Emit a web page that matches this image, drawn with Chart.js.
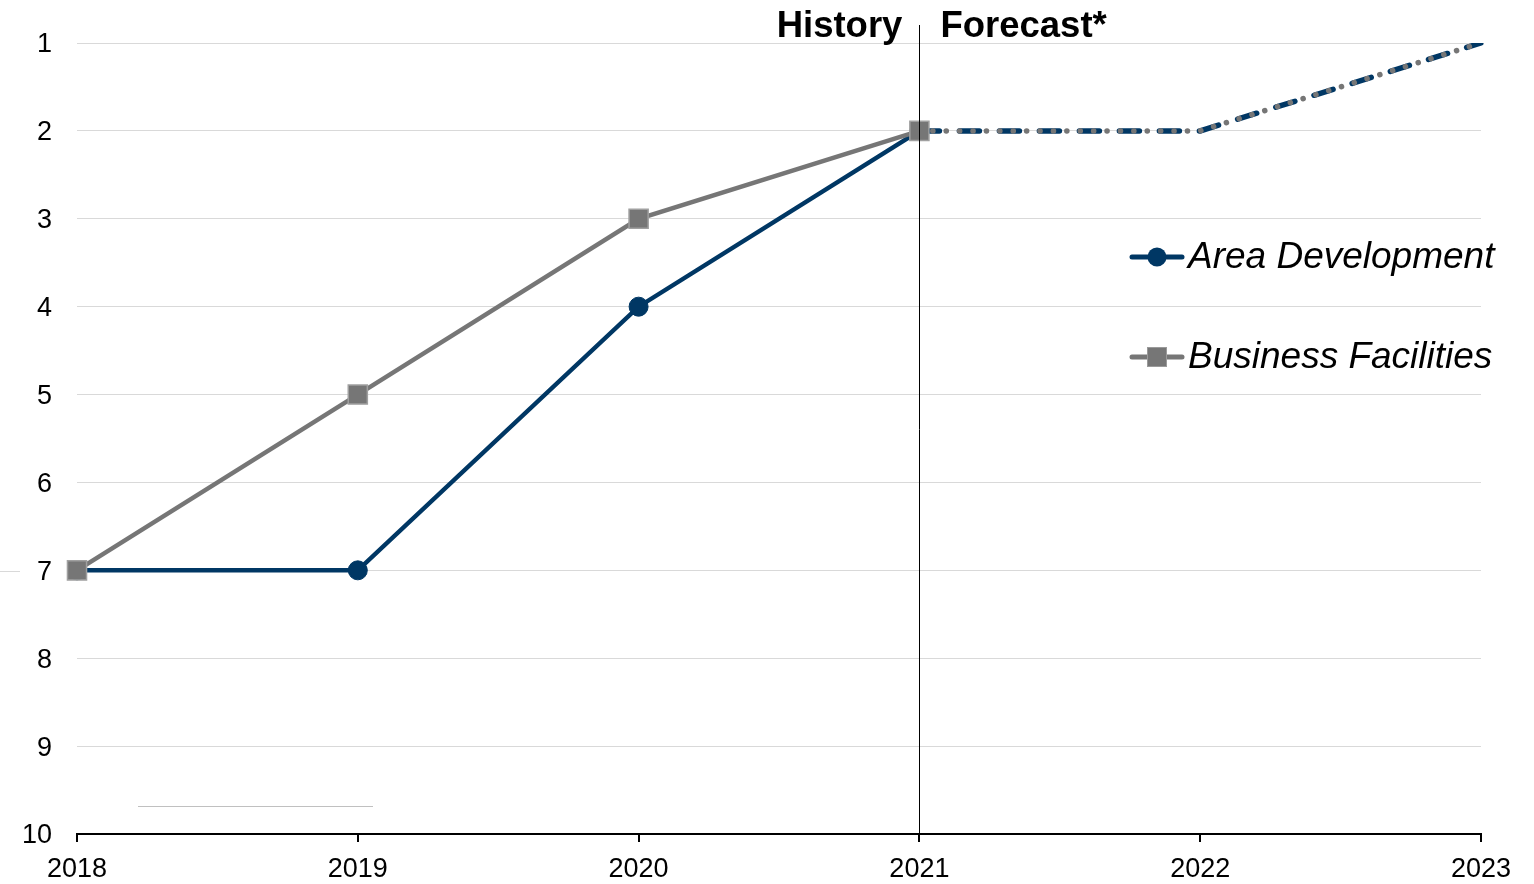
<!DOCTYPE html>
<html>
<head>
<meta charset="utf-8">
<script src="https://cdn.jsdelivr.net/npm/chart.js@4"></script>
<style>
html,body{margin:0;padding:0;background:#fff;}
#wrap{position:relative;width:1534px;height:884px;}
</style>
</head>
<body>
<div id="wrap"><canvas id="c" width="1534" height="884"></canvas></div>
<script>
const years = ['2018','2019','2020','2021','2022','2023'];
const yTicks = [1,2,3,4,5,6,7,8,9,10];
const areaHistory = [7, 7, 4, 2, null, null];
const bizHistory = [7, 5, 3, 2, null, null];
const areaForecast = [null, null, null, 2, 2, 1];
const bizForecast = [null, null, null, 2, 2, 1];
const seriesNames = ['Area Development', 'Business Facilities'];
const splitYear = '2021';
const leftLabel = 'History';
const rightLabel = 'Forecast*';

const NAVY = '#003764';
const GRAY = '#767676';
const FONT = '"Liberation Sans", Arial, sans-serif';

const overlay = {
  id: 'overlay',
  afterDatasetsDraw(chart) {
    const ctx = chart.ctx;
    const xs = chart.scales.x;
    const ca = chart.chartArea;
    const xp = xs.getPixelForValue(years.indexOf(splitYear));
    ctx.save();
    ctx.strokeStyle = '#000';
    ctx.lineWidth = 1;
    ctx.beginPath();
    ctx.moveTo(Math.round(xp) + 0.5, 25);
    ctx.lineTo(Math.round(xp) + 0.5, ca.bottom);
    ctx.stroke();
    ctx.fillStyle = '#000';
    ctx.font = 'bold 36.5px ' + FONT;
    ctx.textBaseline = 'alphabetic';
    ctx.textAlign = 'right';
    ctx.fillText(leftLabel, xp - 17, 37);
    ctx.textAlign = 'left';
    ctx.fillText(rightLabel, xp + 21, 37);
    ctx.strokeStyle = '#d9d9d9';
    ctx.beginPath();
    ctx.moveTo(0, 571.5); ctx.lineTo(20, 571.5);
    ctx.stroke();
    ctx.strokeStyle = '#c0c0c0';
    ctx.beginPath();
    ctx.moveTo(138, 806.5); ctx.lineTo(373, 806.5);
    ctx.stroke();
    const items = [
      {name: seriesNames[0], color: NAVY, style: 'circle', y: 257},
      {name: seriesNames[1], color: GRAY, style: 'rect', y: 357}
    ];
    items.forEach(it => {
      ctx.strokeStyle = it.color;
      ctx.lineWidth = 5;
      ctx.lineCap = 'round';
      ctx.beginPath();
      ctx.moveTo(1132, it.y); ctx.lineTo(1182, it.y);
      ctx.stroke();
      ctx.fillStyle = it.color;
      if (it.style === 'circle') {
        ctx.beginPath();
        ctx.arc(1157, it.y, 9.5, 0, Math.PI * 2);
        ctx.fill();
      } else {
        ctx.fillRect(1147, it.y - 10, 20, 20);
        ctx.strokeStyle = '#9a9a9a';
        ctx.lineWidth = 1;
        ctx.strokeRect(1147.5, it.y - 9.5, 19, 19);
      }
      ctx.fillStyle = '#000';
      ctx.font = 'italic 37px ' + FONT;
      ctx.textAlign = 'left';
      ctx.textBaseline = 'middle';
      ctx.fillText(it.name, 1188, it.y + 1);
    });
    ctx.restore();
  }
};

new Chart(document.getElementById('c'), {
  type: 'line',
  data: {
    labels: years,
    datasets: [
      {
        label: seriesNames[0] + ' forecast', data: areaForecast,
        borderColor: NAVY, borderWidth: 5.5, borderDash: [20, 20], borderCapStyle: 'round',
        pointRadius: 0, spanGaps: false, order: 4
      },
      {
        label: seriesNames[1] + ' forecast', data: bizForecast,
        borderColor: GRAY, borderWidth: 5.5, borderDash: [0.1, 13.3], borderCapStyle: 'round',
        pointRadius: 0, spanGaps: false, order: 3
      },
      {
        label: seriesNames[0], data: areaHistory,
        borderColor: NAVY, borderWidth: 4.5, backgroundColor: NAVY,
        pointStyle: 'circle', pointRadius: 9.5, pointBorderWidth: 1, pointBorderColor: NAVY,
        pointBackgroundColor: NAVY, order: 2
      },
      {
        label: seriesNames[1], data: bizHistory,
        borderColor: GRAY, borderWidth: 4.5, backgroundColor: GRAY,
        pointStyle: 'rect', pointRadius: 13.5, pointBorderWidth: 1.5, pointBorderColor: '#a0a0a0',
        pointBackgroundColor: GRAY, order: 1
      }
    ]
  },
  options: {
    responsive: false,
    animation: false,
    devicePixelRatio: 1,
    layout: { padding: { top: 43, right: 53, left: 0, bottom: 0 } },
    plugins: { legend: { display: false }, tooltip: { enabled: false }, title: { display: false } },
    elements: { line: { tension: 0 } },
    scales: {
      x: {
        type: 'category',
        offset: false,
        border: { display: true, color: '#000', width: 2 },
        grid: { display: true, drawOnChartArea: false, drawTicks: true, tickLength: 8, color: '#000', lineWidth: 2 },
        ticks: { color: '#000', font: { family: FONT, size: 27 }, padding: 11, maxRotation: 0, autoSkip: false },
        afterFit(s) { s.height = 50; }
      },
      y: {
        type: 'linear',
        reverse: true,
        min: 1, max: 10,
        border: { display: false },
        grid: { color: '#d9d9d9', lineWidth: 1, drawTicks: false },
        afterBuildTicks(s) { s.ticks = yTicks.map(v => ({ value: v })); },
        ticks: { color: '#000', font: { family: FONT, size: 27 }, padding: 25, labelOffset: 2 },
        afterFit(s) { s.width = 77; }
      }
    }
  },
  plugins: [overlay]
});
</script>
</body>
</html>
